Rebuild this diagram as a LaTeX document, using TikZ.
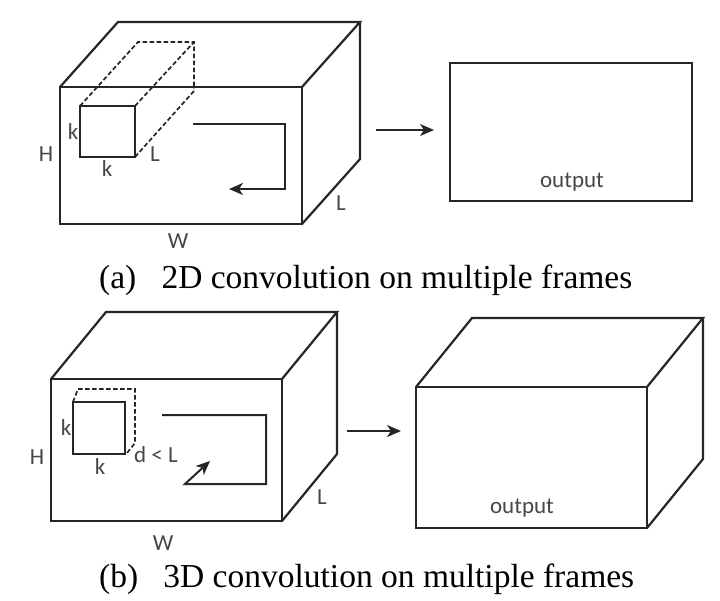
\documentclass[tikz,border=0pt]{standalone}
\usepackage{fontspec}
\setmainfont{Liberation Serif}
\newfontfamily\lblfont{Carlito}
\usepackage{tikz}
\usetikzlibrary{positioning,arrows.meta}

\tikzset{
  edge/.style={black!85, line width=2.2pt, line join=miter},
  hidden/.style={black!85, line width=1.7pt, dash pattern=on 4.5pt off 2.5pt},
  flow/.style={black!85, line width=2pt, -{Stealth[length=14pt,width=12pt,inset=4pt]}},
  lbl/.style={text=black!72, font=\lblfont\fontsize{23}{23}\selectfont, inner sep=0pt},
  capt/.style={font=\fontsize{33.5}{33.5}\selectfont, inner sep=0pt, anchor=base west}
}

\begin{document}
\begin{tikzpicture}[x=1pt, y=-1pt]
\useasboundingbox[fill=white] (0,0) rectangle (720,600);

% (a) input volume
\draw[edge] (60,87) rectangle (302,224);
\draw[edge] (60,87) -- (118,22) -- (360,22) -- (302,87);
\draw[edge] (360,22) -- (360,159) -- (302,224);
% kernel and its depth
\draw[edge] (80,106) rectangle (135,157);
\draw[hidden] (80,106) -- (138,42) -- (194,42) -- (194,89);
\draw[hidden] (135,106) -- (194,42);
\draw[hidden] (135,157) -- (194,91);
\node[lbl] (ka1) at (73,132) {k};
\node[lbl] (ka2) at (107,169) {k};
\node[lbl] (la1) at (155,154) {L};
\node[lbl] (ha) at (46,154) {H};
\node[lbl] (wa) at (178,241) {W};
\node[lbl] (la2) at (341,203) {L};
% sliding path
\coordinate (pa0) at (193,124);
\coordinate (pa1) at (285,124);
\coordinate (pa2) at (285,189);
\coordinate (pa3) at (229,189);
\draw[flow] (pa0) -- (pa1) -- (pa2) -- (pa3);
% to output
\coordinate (ina) at (376,130);
\coordinate (outa) at (434,130);
\draw[flow] (ina) -- (outa);
\draw[edge] (450,63) rectangle (692,201);
\node[lbl] (oa) at (572,182) {output};
\node[capt] (capa) at (99,288) {(a)\hspace{0.75em}2D convolution on multiple frames};

% (b) input volume
\draw[edge] (51,379) rectangle (282,521);
\draw[edge] (51,379) -- (106,312) -- (337,312) -- (282,379);
\draw[edge] (337,312) -- (337,454) -- (282,521);
% kernel and its depth
\draw[edge] (73,402) rectangle (125,454);
\draw[hidden] (73,402) -- (78,389) -- (135,389) -- (135,443) -- (127,453);
\node[lbl] (kb1) at (66,428) {k};
\node[lbl] (kb2) at (100,467) {k};
\node[lbl, anchor=west] (db) at (134,455) {d < L};
\node[lbl] (hb) at (37,457) {H};
\node[lbl] (wb) at (163,543) {W};
\node[lbl] (lb) at (322,497) {L};
% sliding path
\coordinate (pb0) at (162,415);
\coordinate (pb1) at (266,415);
\coordinate (pb2) at (266,484);
\coordinate (pb3) at (185,484);
\coordinate (pb4) at (210,461);
\draw[flow] (pb0) -- (pb1) -- (pb2) -- (pb3) -- (pb4);
% to output
\coordinate (inb) at (347,431);
\coordinate (outb) at (401,431);
\draw[flow] (inb) -- (outb);
\draw[edge] (416,387) rectangle (647,528);
\draw[edge] (416,387) -- (472,318) -- (703,318) -- (647,387);
\draw[edge] (703,318) -- (703,459) -- (647,528);
\node[lbl] (ob) at (522,508) {output};
\node[capt] (capb) at (99,587) {(b)\hspace{0.75em}3D convolution on multiple frames};
\end{tikzpicture}
\end{document}
